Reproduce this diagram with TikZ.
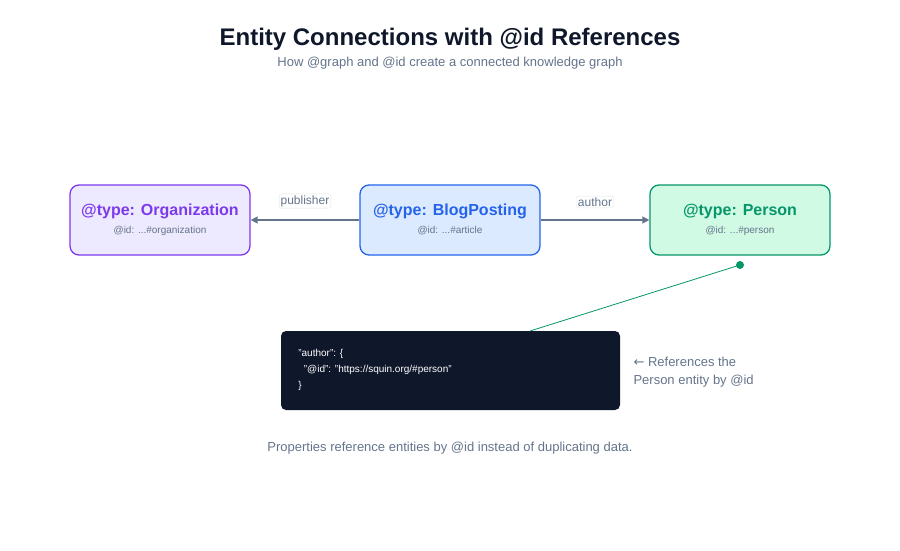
\documentclass[tikz,border=0pt]{standalone}
\usepackage{fontspec}
\setmainfont{Liberation Sans}
\newfontfamily\symfont{DejaVu Sans}
\usetikzlibrary{arrows.meta}
\definecolor{slate}{HTML}{64748B}
\definecolor{ink}{HTML}{0F172A}
\definecolor{orgc}{HTML}{7C3AED}
\definecolor{orgf}{HTML}{EDE9FE}
\definecolor{blogc}{HTML}{2563EB}
\definecolor{blogf}{HTML}{DBEAFE}
\definecolor{perc}{HTML}{059669}
\definecolor{perf}{HTML}{D1FAE5}
\tikzset{
  entity/.style={draw=#1, line width=1.3pt, rounded corners=9pt, minimum width=180pt, minimum height=70pt},
  edgelabel/.style={fill=white, draw=gray!20, rounded corners=2pt, inner sep=1.5pt, text=slate, font=\fontsize{12}{14}\selectfont},
  link/.style={draw=slate, line width=1.5pt, -{Triangle[length=7pt,width=7pt]}}
}
\begin{document}
\begin{tikzpicture}[x=1pt,y=1pt]
  \useasboundingbox (0,0) rectangle (900,550);
  %Titel
  \node (title) at (450,511) {\fontsize{24}{28}\selectfont\bfseries\color{ink}Entity Connections with @id References};
  \node (sub) at (450,487) {\fontsize{13}{15}\selectfont\color{slate}How @graph and @id create a connected knowledge graph};
  %Entitaeten
  \node[entity=orgc, fill=orgf] (org) at (160,330) {};
  \node[entity=blogc, fill=blogf] (blog) at (450,330) {};
  \node[entity=perc, fill=perf] (person) at (740,330) {};
  \foreach \n/\t/\i/\c in {org/Organization/organization/orgc, blog/BlogPosting/article/blogc, person/Person/person/perc}{
    \node[text=\c, font=\fontsize{16}{18}\selectfont\bfseries] at ([yshift=9pt]\n.center) {@type: \t};
    \node[text=slate, font=\fontsize{10}{12}\selectfont] at ([yshift=-11pt]\n.center) {@id: ...\#\i};
  }
  %Kanten
  \draw[link] (blog.west) -- (org.east);
  \draw[link] (blog.east) -- (person.east -| person.west);
  \node[edgelabel] (lpub) at (305,349) {publisher};
  \node[edgelabel] (lauth) at (595,348) {author};
  %Code
  \node[fill=ink, rounded corners=5pt, minimum width=339pt, minimum height=79pt] (code) at (450.5,179.5) {};
  \node[anchor=west, text=white, font=\fontsize{10}{12}\selectfont, align=left] at ([xshift=14pt,yshift=1pt]code.west)
    {"author": \{\\[4pt]\ \ "@id": "https://squin.org/\#person"\\[4pt]\}};
  \coordinate (dot) at (740,285);
  \coordinate (hit) at (530,219);
  \draw[perc, line width=0.8pt] (hit) -- (dot);
  \fill[perc] (dot) circle (4pt);
  \node[anchor=north west, text=slate, align=left, font=\fontsize{13}{18}\selectfont] (note) at (630,196)
    {{\symfont ←} References the\\Person entity by @id};
  \node (foot) at (450,102) {\fontsize{13}{15}\selectfont\color{slate}Properties reference entities by @id instead of duplicating data.};
\end{tikzpicture}
\end{document}
